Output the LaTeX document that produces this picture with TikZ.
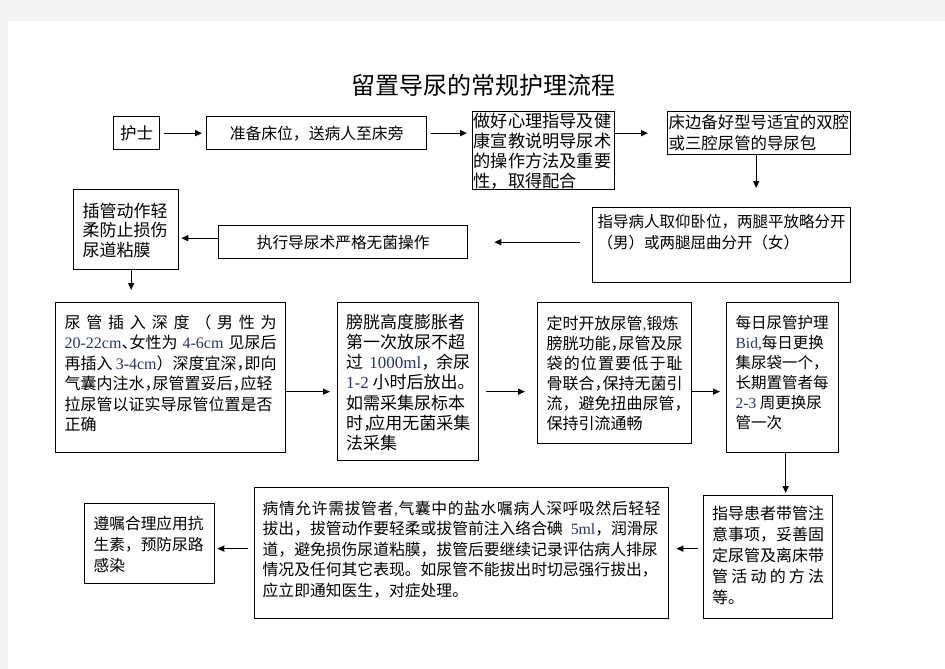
\documentclass[tikz,border=0pt]{standalone}
\usepackage{fontspec}
\setmainfont{Noto Sans CJK SC}
\newfontfamily\latinfont{Liberation Serif}
\usetikzlibrary{arrows.meta}
\definecolor{numblue}{RGB}{40,52,110}
\definecolor{pagegray}{RGB}{244,244,244}
\newcommand{\fs}[2]{\fontsize{#1}{#2}\selectfont}
\newcommand{\lat}[1]{{\latinfont\color{numblue}#1}}
\newcommand{\hw}[2][.5em]{\makebox[#1][l]{#2}}
\newcommand{\jl}[1]{\makebox[\linewidth][s]{#1}}
\def\spr#1{\ifx\relax#1\else#1\hfil\expandafter\spr\fi}
\newcommand{\tb}[3]{\parbox[t][#2][t]{#1}{#3}}
\begin{document}
\begin{tikzpicture}[x=1pt,y=-1pt,>={Triangle[length=7pt,width=6pt]}]
	\useasboundingbox (0,0) rectangle (945,669);
	\fill[pagegray] (0,0) rectangle (945,669);
	\fill[white] (8,21) rectangle (945,669);

	\node[font=\fs{24}{28}] (title) at (483,85) {留置导尿的常规护理流程};

	\begin{scope}[every node/.style={draw,line width=1.3pt,anchor=north west}]
		% top row
		\node[inner sep=0pt,minimum width=46pt,minimum height=33pt,font=\fs{16.5}{20}] (nurse) at (113,116) {护士};
		\node[inner sep=0pt,minimum width=220pt,minimum height=33pt,font=\fs{15.8}{20}] (prep) at (206,116) {准备床位，送病人至床旁};
		\node[inner xsep=1pt,inner ysep=1.5pt,font=\fs{17.2}{20}] (edu) at (472,111)
			{\tb{140pt}{75pt}{做好心理指导及健\\康宣教说明导尿术\\的操作方法及重要\\性，取得配合}};
		\node[inner xsep=1pt,inner ysep=2.5pt,font=\fs{16.4}{21}] (kit) at (667,111)
			{\tb{181pt}{38pt}{床边备好型号适宜的双腔\\或三腔尿管的导尿包}};
		% second row
		\node[inner xsep=5pt,inner ysep=7pt,font=\fs{15.5}{21}] (pos) at (592,207)
			{\tb{248pt}{61pt}{指导病人取仰卧位，两腿平放略分开\\（男）或两腿屈曲分开（女）}};
		\node[inner sep=0pt,minimum width=249pt,minimum height=33pt,font=\fs{15.7}{20}] (aseptic) at (218,225) {执行导尿术严格无菌操作};
		\node[inner xsep=9pt,inner ysep=13.5pt,font=\fs{17}{19.5}] (gentle) at (73,189)
			{\tb{87pt}{53pt}{插管动作轻\\柔防止损伤\\尿道粘膜}};
		% third row
		\node[inner xsep=9pt,inner ysep=12pt,font=\fs{16}{20.5}] (depth) at (55,302)
			{\tb{212pt}{126pt}{\jl{尿\hfill 管\hfill 插\hfill 入\hfill 深\hfill 度\hfill （\hfill 男\hfill 性\hfill 为}\\
			\jl{\lat{20-22cm}\hw{、}女性为\hfill\lat{4-6cm}\hfill 见尿后}\\
			\jl{再插入\hfill\lat{3-4cm}）深度宜深\hw{，}即向}\\
			气囊内注水\hw{，}尿管置妥后\hw{，}应轻\\
			拉尿管以证实导尿管位置是否\\
			正确}};
		\node[inner xsep=8.5pt,inner ysep=11pt,font=\fs{17}{20.3}] (bladder) at (337,302)
			{\tb{124pt}{136pt}{膀胱高度膨胀者\\第一次放尿不超\\
			\jl{过\hfill\lat{1000ml}\hw{，}\hfill 余尿}\\
			\lat{1-2} 小时后放出\hw{。}\\如需采集尿标本\\
			时\hw[.3em]{，}应用无菌采集\\法采集}};
		\node[inner xsep=9pt,inner ysep=13pt,font=\fs{16}{20}] (drain) at (537,302)
			{\tb{136pt}{115pt}{定时开放尿管\lat{,}锻炼\\膀胱功能\hw{，}尿管及尿\\
			\jl{袋\hfill 的\hfill 位\hfill 置\hfill 要\hfill 低\hfill 于\hfill 耻}\\
			骨联合\hw{，}保持无菌引\\流，避免扭曲尿管\hw{，}\\保持引流通畅}};
		\node[inner xsep=9pt,inner ysep=13pt,font=\fs{15.5}{20}] (daily) at (726,302)
			{\tb{94pt}{124pt}{每日尿管护理\\\lat{Bid,}每日更换\\集尿袋一个，\\长期置管者每\\\lat{2-3} 周更换尿\\管一次}};
		% bottom row
		\node[inner xsep=8.5pt,inner ysep=10pt,font=\fs{16}{21}] (guide) at (703,495)
			{\tb{112pt}{103pt}{指导患者带管注\\意事项，妥善固\\定尿管及离床带\\
			\jl{管\hfill 活\hfill 动\hfill 的\hfill 方\hfill 法}\\等。}};
		\node[inner xsep=8pt,inner ysep=13pt,font=\fs{15.8}{20.5}] (remove) at (254,487)
			{\tb{398pt}{105pt}{\jl{\spr 病情允许需拔管者\relax\lat{,}\hfil\spr 气囊中的盐水嘱病人深呼吸然后轻\relax 轻}\\
			拔出，拔管动作要轻柔或拔管前注入络合碘\enspace\lat{5ml}，润滑尿\\
			道，避免损伤尿道粘膜，拔管后要继续记录评估病人排尿\\
			情况及任何其它表现。如尿管不能拔出时切忌强行拔出，\\
			应立即通知医生，对症处理。}};
		\node[inner xsep=9pt,inner ysep=13pt,font=\fs{15.7}{21}] (abx) at (84,503)
			{\tb{112pt}{54pt}{遵嘱合理应用抗\\生素，预防尿路\\感染}};
	\end{scope}

	\begin{scope}[every edge/.style={draw=black,line width=1.3pt}]
		\path [->] (nurse) edge [shorten <=4pt,shorten >=4pt] (prep);
		\path [->] (prep.east) edge [shorten <=4pt,shorten >=5pt] (prep.east -| edu.west);
		\path [->] (edu.east |- kit.west) edge [shorten >=19pt] (kit.west);
		\path [->] ([xshift=-3pt]kit.south) edge [shorten >=19pt] ([xshift=-3pt]kit.south |- pos.north);
		\path [->] (pos.west |- aseptic.east) edge [shorten <=12pt,shorten >=26pt] (aseptic.east);
		\path [->] ([yshift=4pt]aseptic.west) edge [shorten >=2pt] ([yshift=4pt]aseptic.west -| gentle.east);
		\path [->] ([xshift=5pt]gentle.south) edge [shorten >=12pt] ([xshift=5pt]gentle.south |- depth.north);
		\path [->] ([yshift=-14pt]depth.east) edge [shorten >=7pt] ([yshift=-14pt]depth.east -| bladder.west);
		\path [->] ([yshift=-10pt]bladder.east) edge [shorten <=7pt,shorten >=12pt] ([yshift=-10pt]bladder.east -| drain.west);
		\path [->] ([yshift=-18.5pt]drain.east) edge [shorten >=6pt] ([yshift=-18.5pt]drain.east -| daily.west);
		\path [->] ([xshift=3pt]daily.south) edge [shorten >=2pt] ([xshift=3pt]daily.south |- guide.north);
		\path [->] ([yshift=8.5pt]guide.west) edge [shorten <=5pt,shorten >=7pt] ([yshift=8.5pt]guide.west -| remove.east);
		\path [->] ([yshift=4.5pt]remove.west) edge [shorten <=6pt,shorten >=2pt] ([yshift=4.5pt]remove.west -| abx.east);
		%\path [->] (remove) edge (abx);
	\end{scope}
\end{tikzpicture}
\end{document}
